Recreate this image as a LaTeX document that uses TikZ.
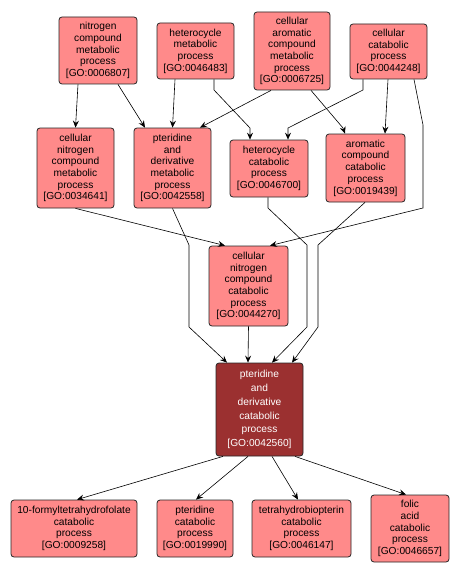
\documentclass[tikz,border=0pt]{standalone}
\usepackage{fontspec}
\setmainfont{Liberation Sans}
\usetikzlibrary{arrows.meta}
\definecolor{boxfill}{RGB}{255,138,138}
\definecolor{darkfill}{RGB}{155,48,48}
\begin{document}
\begin{tikzpicture}[x=1pt,y=-1pt,
  gobox/.style={draw=black!85, line width=0.8pt, fill=boxfill, rounded corners=3pt,
    align=center, inner sep=0pt, font=\fontsize{10.2}{11.7}\selectfont},
  maingo/.style={gobox, fill=darkfill, text=white, font=\fontsize{10.2}{13.9}\selectfont},
  edge/.style={line width=0.6pt, -{Stealth[length=7pt,width=6pt,inset=2.5pt]}}]
\path[use as bounding box] (0,0) rectangle (458,575);
% top row
\node[gobox, minimum width=78pt, minimum height=67pt] (N1) at (98,50.5) {nitrogen\\compound\\metabolic\\process\\{[}GO:0006807{]}};
\node[gobox, minimum width=77pt, minimum height=56pt] (N2) at (195.5,51) {heterocycle\\metabolic\\process\\{[}GO:0046483{]}};
\node[gobox, minimum width=76pt, minimum height=78pt] (N3) at (292,51) {cellular\\aromatic\\compound\\metabolic\\process\\{[}GO:0006725{]}};
\node[gobox, minimum width=77pt, minimum height=55pt] (N4) at (388.5,51.5) {cellular\\catabolic\\process\\{[}GO:0044248{]}};
% second row
\node[gobox, minimum width=77pt, minimum height=80pt] (N5) at (75.5,168) {cellular\\nitrogen\\compound\\metabolic\\process\\{[}GO:0034641{]}};
\node[gobox, minimum width=77pt, minimum height=80pt] (N6) at (172.5,168) {pteridine\\and\\derivative\\metabolic\\process\\{[}GO:0042558{]}};
\node[gobox, minimum width=78pt, minimum height=57pt] (N7) at (269,168.5) {heterocycle\\catabolic\\process\\{[}GO:0046700{]}};
\node[gobox, minimum width=79pt, minimum height=68pt] (N8) at (365.5,168) {aromatic\\compound\\catabolic\\process\\{[}GO:0019439{]}};
% third row
\node[gobox, minimum width=79pt, minimum height=80pt] (N9) at (248.5,286) {cellular\\nitrogen\\compound\\catabolic\\process\\{[}GO:0044270{]}};
% main
\node[maingo, minimum width=87pt, minimum height=93pt] (N10) at (259.5,409.5) {pteridine\\and\\derivative\\catabolic\\process\\{[}GO:0042560{]}};
% bottom row
\node[gobox, minimum width=126pt, minimum height=57pt] (B1) at (74,528.5) {10-formyltetrahydrofolate\\catabolic\\process\\{[}GO:0009258{]}};
\node[gobox, minimum width=76pt, minimum height=57pt] (B2) at (195,528.5) {pteridine\\catabolic\\process\\{[}GO:0019990{]}};
\node[gobox, minimum width=99pt, minimum height=57pt] (B3) at (301.5,528.5) {tetrahydrobiopterin\\catabolic\\process\\{[}GO:0046147{]}};
\node[gobox, minimum width=78pt, minimum height=67pt] (B4) at (410,528.5) {folic\\acid\\catabolic\\process\\{[}GO:0046657{]}};
% edges
\draw[edge] ([xshift=-20pt]N1.south) -- (N5.north);
\draw[edge] ([xshift=20pt]N1.south) -- ([xshift=-27.5pt]N6.north);
\draw[edge] ([xshift=-20.5pt]N2.south) -- (N6.north);
\draw[edge] ([xshift=-21pt]N3.south) -- ([xshift=27.5pt]N6.north);
\draw[edge] ([xshift=18.5pt]N2.south) -- (214,90) -- (250,128) -- ([xshift=-19pt]N7.north);
\draw[edge] ([xshift=-25.5pt]N4.south) -- (363,90) -- (288,128) -- ([xshift=19pt]N7.north);
\draw[edge] ([xshift=19pt]N3.south) -- (343,128) -- ([xshift=-20.5pt]N8.north);
\draw[edge] ([xshift=-0.5pt]N4.south) -- ([xshift=19.5pt]N8.north);
\draw[edge] ([xshift=25.5pt]N4.south) -- (423,125) -- (423,208) -- ([xshift=21.5pt]N9.north);
\draw[edge] (N5.south) -- ([xshift=-23.5pt]N9.north);
\draw[edge] (N6.south) -- (189,245) -- (189,327) -- ([xshift=-32.5pt]N10.north);
\draw[edge] (N9.south) -- ([xshift=-11.5pt]N10.north);
\draw[edge] ([xshift=-1pt]N7.south) -- (268,208) -- (307,245) -- (307,327) -- ([xshift=12.5pt]N10.north);
\draw[edge] ([xshift=-0.5pt]N8.south) -- (318,245) -- (318,327) -- ([xshift=32.5pt]N10.north);
\draw[edge] ([xshift=-36.5pt]N10.south) -- ([xshift=3pt]B1.north);
\draw[edge] ([xshift=-11.5pt]N10.south) -- ([xshift=1pt]B2.north);
\draw[edge] ([xshift=12.5pt]N10.south) -- ([xshift=-3.5pt]B3.north);
\draw[edge] ([xshift=35.5pt]N10.south) -- ([xshift=-4pt]B4.north);
\end{tikzpicture}
\end{document}
